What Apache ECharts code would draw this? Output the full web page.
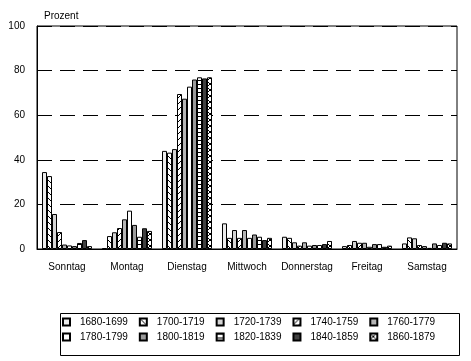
<!DOCTYPE html>
<html><head><meta charset="utf-8">
<script src="https://cdn.jsdelivr.net/npm/echarts@6/dist/echarts.min.js"></script>
<style>html,body{margin:0;padding:0;background:#fff}#c{width:471px;height:361px}</style>
</head><body><div id="c"></div>
<script>
const categories = ['Sonntag','Montag','Dienstag','Mittwoch','Donnerstag','Freitag','Samstag'];
const periods = ['1680-1699','1700-1719','1720-1739','1740-1759','1760-1779','1780-1799','1800-1819','1820-1839','1840-1859','1860-1879'];
const yTicks = [0,20,40,60,80,100];
const s1680 = [34.5, 0.4, 44.0, 11.5, 5.5, 1.3, 2.5];
const s1700 = [32.7, 5.8, 43.2, 5.0, 5.0, 1.8, 5.2];
const s1720 = [15.7, 7.5, 44.8, 8.5, 3.0, 3.6, 4.8];
const s1740 = [7.6, 9.4, 69.5, 5.0, 1.5, 2.8, 1.8];
const s1760 = [2.0, 13.3, 67.4, 8.5, 3.0, 2.8, 1.3];
const s1780 = [1.6, 17.2, 72.8, 5.0, 1.5, 1.0, 0.5];
const s1800 = [1.3, 10.8, 76.0, 6.5, 1.8, 2.2, 2.5];
const s1820 = [2.7, 5.5, 77.0, 5.5, 1.8, 2.2, 1.8];
const s1840 = [4.0, 9.3, 76.5, 4.0, 2.2, 1.0, 2.8];
const s1860 = [1.3, 8.1, 77.0, 5.0, 3.6, 1.5, 2.5];
const seriesValues = [s1680,s1700,s1720,s1740,s1760,s1780,s1800,s1820,s1840,s1860];

function pat(size, draw){
  const c = document.createElement('canvas'); c.width = size; c.height = size;
  const g = c.getContext('2d'); g.fillStyle = '#fff'; g.fillRect(0,0,size,size);
  g.fillStyle = '#000'; draw(g, size);
  return {image: c, repeat: 'repeat'};
}
const fills = [
  '#ececec',
  pat(6, (g,s)=>{ for(let i=0;i<s;i++) g.fillRect(i,i,1,1); }),
  '#d4d4d4',
  pat(6, (g,s)=>{ for(let i=0;i<s;i++) g.fillRect(s-1-i,i,1,1); }),
  '#b4b4b4',
  '#ffffff',
  '#9a9a9a',
  pat(4, (g,s)=>{ g.fillRect(0,0,s,1); }),
  '#404040',
  pat(6, (g,s)=>{ for(let i=0;i<s;i++){ g.fillRect(i,i,1,1); g.fillRect(s-1-i,i,1,1);} })
];

const chart = echarts.init(document.getElementById('c'), null, {renderer:'canvas'});
const font = 'Liberation Sans';
const series = periods.map((p,i)=>({
  name: p, type: 'bar', data: seriesValues[i], barWidth: 5, barGap: '0%',
  itemStyle: {color: fills[i], borderColor: '#000', borderWidth: 1},
  animation: false
}));
function legend(items, top){
  return {data: items, top: top, left: 62, orient: 'horizontal', padding: 0,
    itemWidth: 7, itemHeight: 7, itemGap: 11, icon: 'rect', selectedMode: false,
    textStyle: {fontFamily: font, fontSize: 10, color: '#000', padding: [0,0,0,5]}};
}
chart.setOption({
  animation: false,
  backgroundColor: '#fff',
  title: {text: 'Prozent', left: 39, top: 6, textStyle: {fontFamily: font, fontSize: 10, fontWeight: 'normal', color: '#000'}},
  grid: {left: 37, right: 14, top: 26, bottom: 112, show: true, borderColor: '#000', borderWidth: 1, backgroundColor: 'transparent'},
  xAxis: {type: 'category', data: categories,
    axisLine: {lineStyle: {color: '#000', width: 1}}, axisTick: {show: false},
    axisLabel: {interval: 0, fontFamily: font, fontSize: 10, color: '#000', margin: 13}},
  yAxis: {type: 'value', min: yTicks[0], max: yTicks[yTicks.length-1], interval: 20,
    axisLine: {show: true, lineStyle: {color: '#000', width: 1}}, axisTick: {show: false},
    axisLabel: {fontFamily: font, fontSize: 10, color: '#000', margin: 12},
    splitLine: {lineStyle: {color: '#000', width: 1, type: [15, 8]}}},
  legend: [legend(periods.slice(0,5), 317), legend(periods.slice(5), 332)],
  graphic: [{type: 'rect', left: 58, top: 311, shape: {width: 399, height: 42}, style: {fill: 'none', stroke: '#000', lineWidth: 1}, z: -1}],
  series: series
});
</script></body></html>
